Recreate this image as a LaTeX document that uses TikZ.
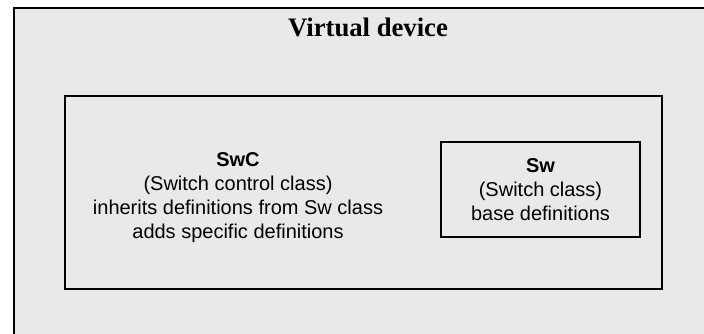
\documentclass[tikz,border=0pt]{standalone}
\usepackage{fontspec}
\setmainfont{Liberation Serif}
\setsansfont{Liberation Sans}
\definecolor{boxgray}{HTML}{E9E9E9}
\begin{document}
\begin{tikzpicture}[x=1pt,y=1pt,
  box/.style={draw=black, line width=2pt, fill=boxgray, inner sep=0pt},
  sanstext/.style={font=\sffamily\fontsize{20}{24}\selectfont, align=center, inner sep=0pt},
  titletext/.style={font=\rmfamily\bfseries\fontsize{26.7}{32}\selectfont, inner sep=0pt}]
\useasboundingbox (0,0) rectangle (704,-334);
\clip (0,0) rectangle (704,-334);
\node[box, anchor=north west, minimum width=720, minimum height=350] (outer) at (12.5,-7.5) {};
\node[titletext, anchor=base] (title) at (368,-37) {Virtual device};
\node[box, minimum width=597, minimum height=193] (swcbox) at (363.5,-192.5) {};
\node[sanstext] (swc) at (238,-198) {\textbf{SwC}\\(Switch control class)\\inherits definitions from Sw class\\adds specific definitions};
\node[box, sanstext, minimum width=199, minimum height=95] (sw) at (540.5,-189.5) {\textbf{Sw}\\(Switch class)\\base definitions};
\end{tikzpicture}
\end{document}
